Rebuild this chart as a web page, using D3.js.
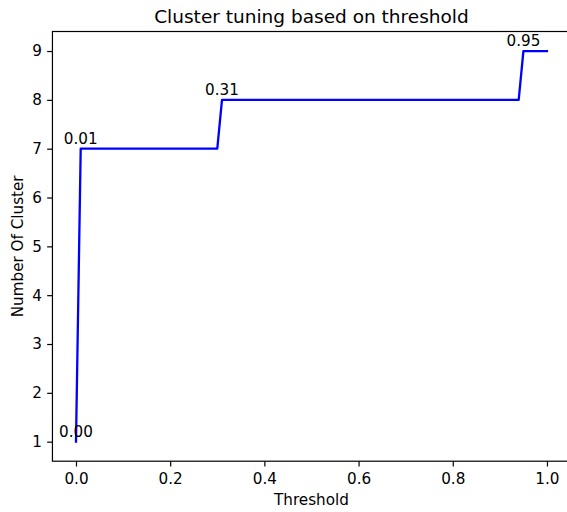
<!DOCTYPE html>
<html><head><meta charset="utf-8">
<script src="https://cdn.jsdelivr.net/npm/d3@7"></script>
<style>body{margin:0;background:#fff}svg{display:block;font-family:"DejaVu Sans",sans-serif}</style>
</head><body>
<svg id="c" width="567" height="512"></svg>
<script>
const thresholds = [0.00, 0.01, 0.30, 0.31, 0.94, 0.95, 1.00];
const clusters   = [1, 7, 7, 8, 8, 9, 9];
const annotX = [0.00, 0.01, 0.31, 0.95];
const annotY = [1, 7, 8, 9];
const annotLabels = ["0.00", "0.01", "0.31", "0.95"];
const xTicks = [0, 0.2, 0.4, 0.6, 0.8, 1.0];
const yTicks = [1, 2, 3, 4, 5, 6, 7, 8, 9];
const title = "Cluster tuning based on threshold";
const xLabel = "Threshold";
const yLabel = "Number Of Cluster";

const L = 52.45, R = 570.5, T = 31.5, B = 461.2;
const FS = 15.2, TFS = 18.5;
const svg = d3.select("#c");
const x = d3.scaleLinear().domain([-0.05, 1.05]).range([L, R]);
const y = d3.scaleLinear().domain([0.6, 9.4]).range([B, T]);

const data = thresholds.map((t, i) => ({t, c: clusters[i]}));

const line = d3.line().x(d => x(d.t)).y(d => y(d.c));
svg.append("path").datum(data).attr("d", line)
  .attr("fill", "none").attr("stroke", "#0000ff").attr("stroke-width", 2.3)
  .attr("stroke-linejoin", "round").attr("stroke-linecap", "square");

// axes
const xAxis = svg.append("g").attr("transform", `translate(0,${B})`)
  .call(d3.axisBottom(x).tickValues(xTicks).tickFormat(d3.format(".1f")).tickSize(5.3).tickPadding(6.3).tickSizeOuter(0));
const yAxis = svg.append("g").attr("transform", `translate(${L},0)`)
  .call(d3.axisLeft(y).tickValues(yTicks).tickFormat(d3.format("d")).tickSize(5.3).tickPadding(5.3).tickSizeOuter(0));
[xAxis, yAxis].forEach(g => {
  g.selectAll("text").attr("font-size", FS).attr("font-family", "DejaVu Sans").attr("fill", "#000");
  g.selectAll("line").attr("stroke", "#000").attr("stroke-width", 1.2);
  g.select(".domain").remove();
});
// spines
svg.append("rect").attr("x", L).attr("y", T).attr("width", R - L).attr("height", B - T)
  .attr("fill", "none").attr("stroke", "#000").attr("stroke-width", 1.2);

// annotations
svg.append("g").selectAll("text").data(annotX).join("text")
  .attr("x", d => x(d)).attr("y", (d, i) => y(annotY[i]) - 5)
  .attr("text-anchor", "middle").attr("font-size", FS).attr("fill", "#000")
  .text((d, i) => annotLabels[i]);

// title and labels
const cx = (L + R) / 2;
svg.append("text").attr("x", cx).attr("y", 22.7).attr("text-anchor", "middle")
  .attr("font-size", TFS).attr("fill", "#000").text(title);
svg.append("text").attr("x", cx).attr("y", 505).attr("text-anchor", "middle")
  .attr("font-size", FS).attr("fill", "#000").text(xLabel);
svg.append("text").attr("transform", `translate(23.3,${(T + B) / 2}) rotate(-90)`)
  .attr("text-anchor", "middle").attr("font-size", FS).attr("fill", "#000").text(yLabel);
</script>
</body></html>
